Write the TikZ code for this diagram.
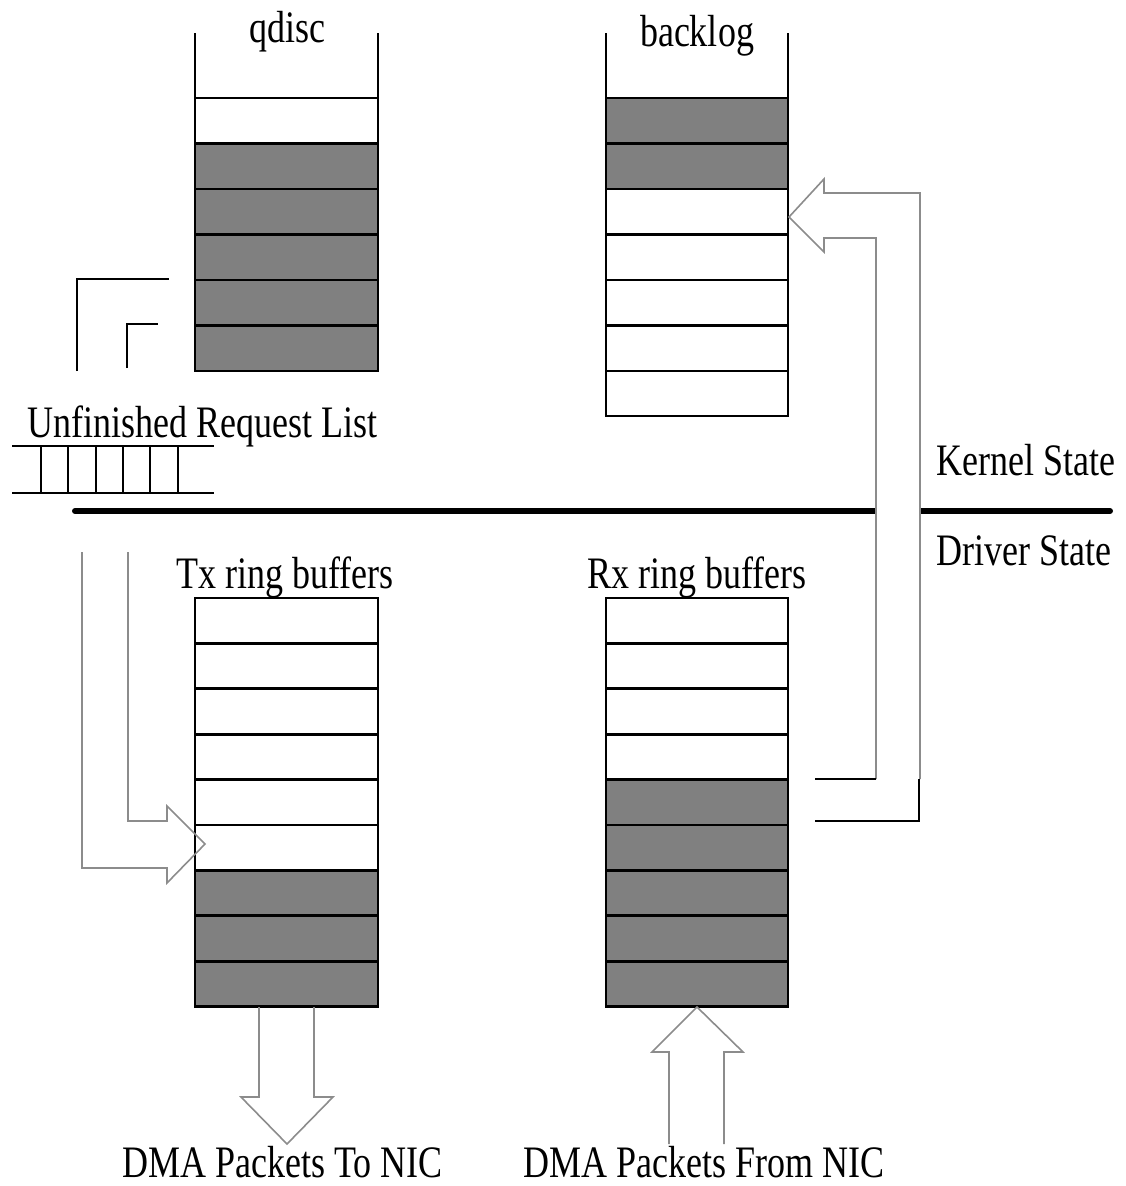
\documentclass[tikz,border=0pt]{standalone}
\usepackage{fontspec}
\setmainfont{Liberation Serif}[FakeStretch=0.8]
\tikzset{
  rotulo/.style={inner sep=0pt, font=\fontsize{45}{54}\selectfont},
  caixa/.style={line width=2.7pt},
  seta/.style={draw=black!45, line width=1.6pt, line join=miter},
  traco/.style={line width=2.5pt},
}
\begin{document}
\begin{tikzpicture}[x=1pt,y=-1pt]  %Inicio Grafico (1 unidade = 1 pixel)
\useasboundingbox (0,0) rectangle (1125,1186);

        %Pilha qdisc
    \fill[gray] (195,143.5) rectangle (378,371);
    \draw[caixa] (195,33) -- (195,371) -- (378,371) -- (378,33);
    \draw[caixa] (195,98) -- (378,98);
    \draw[caixa] (195,143.5) -- (378,143.5);
    \draw[caixa] (195,189) -- (378,189);
    \draw[caixa] (195,234.5) -- (378,234.5);
    \draw[caixa] (195,280) -- (378,280);
    \draw[caixa] (195,325.5) -- (378,325.5);
    \node[rotulo, anchor=base] (qdisc) at (287,42) {qdisc};

        %Pilha backlog
    \fill[gray] (606,98) rectangle (788,189);
    \draw[caixa] (606,33) -- (606,416) -- (788,416) -- (788,33);
    \draw[caixa] (606,98) -- (788,98);
    \draw[caixa] (606,143.5) -- (788,143.5);
    \draw[caixa] (606,189) -- (788,189);
    \draw[caixa] (606,234.5) -- (788,234.5);
    \draw[caixa] (606,280) -- (788,280);
    \draw[caixa] (606,325.5) -- (788,325.5);
    \draw[caixa] (606,371) -- (788,371);
    \node[rotulo, anchor=base] (backlog) at (697,46) {backlog};

        %Lista de pedidos
    \node[rotulo, anchor=base west] (lista) at (27,437) {Unfinished Request List};
    \draw[line width=2pt] (12,446) -- (214,446);
    \draw[line width=2pt] (12,493) -- (214,493);
    \draw[line width=2pt] (41,446) -- (41,493);
    \draw[line width=2pt] (68,446) -- (68,493);
    \draw[line width=2pt] (96,446) -- (96,493);
    \draw[line width=2pt] (123,446) -- (123,493);
    \draw[line width=2pt] (150,446) -- (150,493);
    \draw[line width=2pt] (178,446) -- (178,493);

        %Divisao kernel / driver
    \draw[line width=6pt, line cap=round] (75,511) -- (1110,511);
    \node[rotulo, anchor=base west] (kernel) at (936,475) {Kernel State};
    \node[rotulo, anchor=base west] (driver) at (936,565) {Driver State};

        %Pilha Tx
    \fill[gray] (195,870) rectangle (378,1006.6);
    \draw[caixa] (195,598) rectangle (378,1006.6);
    \draw[caixa] (195,643.4) -- (378,643.4);
    \draw[caixa] (195,688.8) -- (378,688.8);
    \draw[caixa] (195,734.2) -- (378,734.2);
    \draw[caixa] (195,779.6) -- (378,779.6);
    \draw[caixa] (195,825) -- (378,825);
    \draw[caixa] (195,870.4) -- (378,870.4);
    \draw[caixa] (195,915.8) -- (378,915.8);
    \draw[caixa] (195,961.2) -- (378,961.2);
    \node[rotulo, anchor=base] (tx) at (285,588) {Tx ring buffers};

        %Pilha Rx
    \fill[gray] (606,779.6) rectangle (788,1006.6);
    \draw[caixa] (606,598) rectangle (788,1006.6);
    \draw[caixa] (606,643.4) -- (788,643.4);
    \draw[caixa] (606,688.8) -- (788,688.8);
    \draw[caixa] (606,734.2) -- (788,734.2);
    \draw[caixa] (606,779.6) -- (788,779.6);
    \draw[caixa] (606,825) -- (788,825);
    \draw[caixa] (606,870.4) -- (788,870.4);
    \draw[caixa] (606,915.8) -- (788,915.8);
    \draw[caixa] (606,961.2) -- (788,961.2);
    \node[rotulo, anchor=base] (rx) at (697,588) {Rx ring buffers};

        %Seta qdisc -> Tx
    \draw[traco] (77,371) -- (77,279) -- (169,279);
    \draw[traco] (127,368) -- (127,324) -- (158,324);
    \draw[seta] (82,552) -- (82,868) -- (167,868) -- (167,883) -- (205,844)
        -- (167,806) -- (167,821) -- (128,821) -- (128,552);

        %Seta Rx -> backlog
    \filldraw[seta, fill=white] (876,779) -- (876,238) -- (824,238) -- (824,252)
        -- (789,217) -- (824,179) -- (824,193) -- (920,193) -- (920,779);
    \draw[traco] (815,779) -- (876,779);
    \draw[traco] (815,821) -- (919,821) -- (919,779);

        %Setas DMA
    \draw[seta] (259,1007) -- (259,1097) -- (241,1097) -- (287,1144)
        -- (333,1097) -- (314,1097) -- (314,1007);
    \draw[seta] (669,1144) -- (669,1052) -- (652,1052) -- (697,1007)
        -- (743,1052) -- (724,1052) -- (724,1144);
    \node[rotulo, anchor=base west] (dmatx) at (122,1177) {DMA Packets To NIC};
    \node[rotulo, anchor=base west] (dmarx) at (523,1177) {DMA Packets From NIC};

\end{tikzpicture}
\end{document}
